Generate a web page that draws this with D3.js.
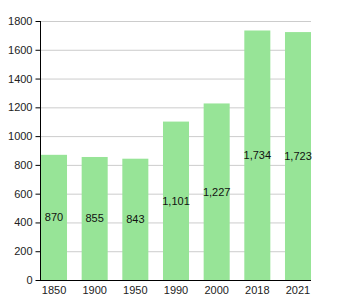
<!DOCTYPE html>
<html>
<head>
<meta charset="utf-8">
<script src="https://cdn.jsdelivr.net/npm/d3@7"></script>
<style>
  body { margin: 0; background: #fff; }
  svg { font-family: "Liberation Sans", Arial, sans-serif; }
</style>
</head>
<body>
<svg id="chart" width="345" height="300"></svg>
<script>
const years = ['1850', '1900', '1950', '1990', '2000', '2018', '2021'];
const population = [870, 855, 843, 1101, 1227, 1734, 1723];
const yTicks = [0, 200, 400, 600, 800, 1000, 1200, 1400, 1600, 1800];

const plotLeft = 41, plotRight = 311, plotTop = 21, plotBottom = 280;
const svg = d3.select('#chart');

const x = d3.scaleBand()
  .domain(years)
  .range([plotLeft, plotRight])
  .paddingInner(0.36)
  .paddingOuter(0);

const y = d3.scaleLinear()
  .domain([0, 1800])
  .range([plotBottom, plotTop]);

// grid
svg.append('g')
  .selectAll('line')
  .data(yTicks.slice(1))
  .join('line')
  .attr('x1', plotLeft - 1)
  .attr('x2', plotRight)
  .attr('y1', d => y(d) + 0.5)
  .attr('y2', d => y(d) + 0.5)
  .attr('stroke', '#cccccc');

// bars
svg.append('g')
  .selectAll('rect')
  .data(years)
  .join('rect')
  .attr('x', d => x(d))
  .attr('y', (d, i) => y(population[i]))
  .attr('width', x.bandwidth())
  .attr('height', (d, i) => plotBottom - y(population[i]))
  .attr('fill', '#97e497');

// value labels
svg.append('g')
  .selectAll('text')
  .data(years)
  .join('text')
  .attr('x', d => x(d) + x.bandwidth() / 2)
  .attr('y', (d, i) => (y(population[i]) + plotBottom) / 2)
  .attr('dy', '0.35em')
  .attr('text-anchor', 'middle')
  .attr('font-size', 11)
  .attr('fill', '#111')
  .text((d, i) => d3.format(population[i] >= 1000 ? ',' : 'd')(population[i]));

// y axis
const yAxis = d3.axisLeft(y)
  .tickValues(yTicks)
  .tickSize(5)
  .tickPadding(3)
  .tickFormat(d3.format('d'));

const yg = svg.append('g')
  .attr('transform', `translate(${plotLeft - 0.5},0)`)
  .call(yAxis);
yg.select('.domain').attr('d', `M0,${plotTop}V${plotBottom + 0.5}`);
yg.selectAll('text').attr('font-size', 11).attr('fill', '#222').attr('font-family', null);

// x axis
const xAxis = d3.axisBottom(x).tickSize(0).tickPadding(6);
const xg = svg.append('g')
  .attr('transform', `translate(0,${plotBottom + 0.5})`)
  .call(xAxis);
xg.select('.domain').attr('d', `M${plotLeft - 1},0H${plotRight}`);
xg.selectAll('text').attr('font-size', 11).attr('fill', '#222').attr('font-family', null);
</script>
</body>
</html>
